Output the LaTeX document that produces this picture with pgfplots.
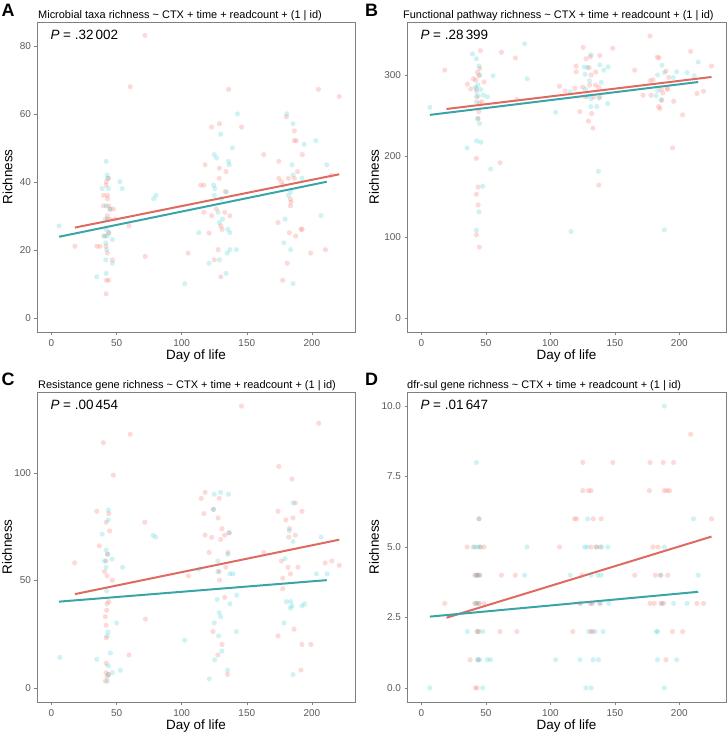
\documentclass[border=0pt]{standalone}
\usepackage{fontspec}
\setmainfont{Liberation Sans}
\usepackage{pgfplots}
\pgfplotsset{compat=1.18}
\definecolor{redpt}{HTML}{F8766D}
\definecolor{tealpt}{HTML}{00BFC4}
\definecolor{redln}{HTML}{DE6A60}
\definecolor{tealln}{HTML}{3AA5A8}
\definecolor{tickgray}{HTML}{5A5A5A}
\definecolor{framegray}{HTML}{808080}
\pgfplotsset{
  panel/.style={
    scale only axis, height=310bp,
    axis line style={draw=framegray, line width=0.9bp},
    tick style={draw=framegray, line width=0.5bp},
    tick align=outside, tick pos=left, major tick length=2.5bp,
    ticklabel style={font=\fontsize{10}{10}\selectfont, text=tickgray},
    xticklabel style={yshift=-1.5bp},
    /pgf/number format/assume math mode=true,
    xtick={0,50,100,150,200},
    xlabel={Day of life},
    ylabel={Richness},
    label style={font=\fontsize{13.5}{14}\selectfont},
    xlabel style={at={(axis description cs:0.5,0)}, anchor=center, yshift=-24bp},
    axis x line*=box, axis y line*=box,
  },
  redpts/.style={only marks, mark=*, mark size=2.6bp, color=redpt, mark options={draw opacity=0, fill=redpt, fill opacity=0.27}},
  tealpts/.style={only marks, mark=*, mark size=2.6bp, color=tealpt, mark options={draw opacity=0, fill=tealpt, fill opacity=0.19}},
  redline/.style={no marks, draw=redln, line width=2bp},
  tealline/.style={no marks, draw=tealln, line width=2bp},
}
\newcommand{\plab}[1]{\node[anchor=west, font=\fontsize{13.5}{14}\selectfont] at (rel axis cs:0,1) [xshift=10bp, yshift=-12.5bp] {\textit{P} = #1};}
\begin{document}
\begin{tikzpicture}
\useasboundingbox (0,0) rectangle (727bp,-733bp);
% letters and titles
\node[anchor=base west, font=\bfseries\fontsize{18}{18}\selectfont, inner sep=0] at (1.5bp,-16bp) {A};
\node[anchor=base west, font=\fontsize{11}{12}\selectfont, inner sep=0] at (38bp,-18.5bp) {Microbial taxa richness \textasciitilde{} CTX + time + readcount + (1 \textbar{} id)};
\node[anchor=base west, font=\bfseries\fontsize{18}{18}\selectfont, inner sep=0] at (365bp,-16bp) {B};
\node[anchor=base west, font=\fontsize{11}{12}\selectfont, inner sep=0] at (403bp,-18.5bp) {Functional pathway richness \textasciitilde{} CTX + time + readcount + (1 \textbar{} id)};
\node[anchor=base west, font=\bfseries\fontsize{18}{18}\selectfont, inner sep=0] at (1.5bp,-385.5bp) {C};
\node[anchor=base west, font=\fontsize{11}{12}\selectfont, inner sep=0] at (38bp,-388.5bp) {Resistance gene richness \textasciitilde{} CTX + time + readcount + (1 \textbar{} id)};
\node[anchor=base west, font=\bfseries\fontsize{18}{18}\selectfont, inner sep=0] at (365bp,-385.5bp) {D};
\node[anchor=base west, font=\fontsize{11}{12}\selectfont, inner sep=0] at (407bp,-388.5bp) {dfr-sul gene richness \textasciitilde{} CTX + time + readcount + (1 \textbar{} id)};

% ---------------- A
\begin{axis}[panel, at={(37bp,-22bp)}, anchor=north west, width=318bp,
  xmin=-11.1, xmax=233.1, ymin=-4.15, ymax=87.15, ytick={0,20,40,60,80},
  ylabel style={at={(axis description cs:0,0.5)}, anchor=center, rotate=0, yshift=29.5bp}]
\addplot[redpts] coordinates {(71.7,83.2)(60.5,68.1)(136,67.3)(205,67.3)(221,65.2)(180.4,59.2)(123,56.2)(129,57.2)(146,56.2)(186.5,55.1)(186.5,52.2)(188,52.2)(163,48.1)(192.6,48.1)(174.6,46.1)(118,45.1)(129,44.1)(134,43.1)(189,43.1)(128.8,41.1)(174.6,41.1)(182,41.1)(186.5,41.1)(44,41.1)(42,40.1)(42,39.1)(114.6,39.1)(117,39.1)(176.6,40.1)(178,39.1)(215,42)(40,36.1)(43,36.1)(133.4,37.2)(43,35.1)(39.9,33)(44,33)(47.5,32.1)(45,32)(117,31.1)(133,31.1)(126.6,32.1)(123,30.1)(137,30.1)(42.9,30.1)(42.9,29.1)(44.9,29.1)(48.8,29.1)(59.5,27.1)(130,27.1)(131,26.1)(174,28.1)(183.5,35)(184,34.1)(183.5,33)(191.6,26.1)(192.5,26.1)(182.7,25.1)(187.6,24.1)(41,24.1)(44,25.1)(18,21.1)(34.8,21.1)(37.3,21.1)(41.9,21.1)(42.9,19.1)(121,25)(128,20.1)(105,19.1)(72,18.1)(125,17.1)(46.8,17.1)(199,19.1)(210.4,20.1)(181,16.1)(130,12.1)(42.2,11.1)(44,11.1)(177.6,11.1)(42,7.1)};
\addplot[tealpts] coordinates {(5.8,27.1)(42,46.1)(42.7,42.1)(43.2,41.1)(38.9,38.1)(43.7,38.1)(52.6,40.1)(54.4,38.1)(78.5,35.1)(80.3,36.1)(42,33)(45,32)(41.4,29.1)(41.9,26.1)(44,25.1)(42.7,24.1)(40,24.1)(46.8,23.1)(41.7,22.1)(42.4,20.1)(41.7,17.1)(46.8,16.1)(34.8,12.1)(42,13.1)(102.4,10.1)(113,25.1)(121,16.1)(125,48.1)(126.8,47.1)(130,54.1)(136,46.1)(136.5,45.1)(139,50.1)(142.8,60.1)(124.5,39.1)(125.5,38.1)(125,36.1)(130.4,35.1)(128,31.1)(131.4,29.1)(129,28.1)(134.6,37.1)(135.4,26.1)(135,19.1)(137,20.1)(142,20.1)(134,13.1)(129,17.1)(137,25.1)(180.7,60.1)(185.5,57.2)(194,51.1)(203,52.2)(184.7,45.1)(211.4,45.1)(185.5,42.1)(192.4,41.1)(183.7,37.1)(182,36.1)(179.4,29.1)(207,30.1)(178.4,22.1)(183.7,20.1)(185.5,10.1)};
\addplot[redline] coordinates {(18,26.6)(221,42.3)};
\addplot[tealline] coordinates {(5.8,23.9)(211.4,40.1)};
\plab{.32\,002}
\end{axis}

% ---------------- B
\begin{axis}[panel, at={(407bp,-22bp)}, anchor=north west, width=319bp,
  xmin=-11.25, xmax=236.25, ymin=-17.4, ymax=365.4, ytick={0,100,200,300},
  ylabel style={at={(axis description cs:0,0.5)}, anchor=center, rotate=0, yshift=33bp}]
\addplot[redpts] coordinates {(18,306)(45.7,330)(62,328)(72.8,321)(125.4,334)(148.4,333)(177.3,348)(208.8,329)(131,322.5)(138.3,324)(120,311)(120,304)(127.7,320)(130,309)(131.6,300)(135.2,303.6)(165.4,306)(184.3,321)(183,322)(189.7,305)(225,311)(218.8,280)(213.7,277)(195.6,267.5)(202.6,250.7)(194.8,210)(35.6,288.5)(38.2,282.7)(40.3,295.4)(42,293.4)(42.6,282.7)(43.4,303.2)(44.4,299)(45.2,307.8)(48.5,291.4)(47,267)(42.8,273)(44.9,265.5)(44.4,254.8)(43.9,245.8)(42.6,197)(61,191.6)(43.9,161.7)(42.6,152.6)(43.9,139.5)(42.6,102.6)(44.9,87.4)(74,269.6)(107,286)(111.5,280.3)(119,283.5)(122.8,254.8)(125,285)(127,272.9)(129.5,243)(133,234.3)(132,252.4)(133.7,272.9)(135,287.6)(137.5,284.8)(130.5,287.6)(138.3,272.9)(137.5,164)(171.9,275)(178,275)(177.5,293)(179.6,294)(184,261)(185,258.5)(186.5,268.8)(186,282)(187.2,277.8)(191,282)(191.8,297)(190.5,284)};
\addplot[tealpts] coordinates {(6.5,260)(35.4,209.7)(39.5,326)(42.6,320)(44.6,311)(45.4,300)(41.8,285)(42.6,279.4)(43.9,287.6)(46,282)(48,275)(51.1,273)(55.5,299)(44,274)(42.6,266.7)(43.6,246.6)(45,240)(42.8,218.7)(46,217)(53.7,183.8)(47.5,162.5)(44.6,131)(42.6,108.3)(80,338.5)(82,295.4)(104,254)(115.4,279.4)(126.2,309.8)(128.8,309.4)(127,300.8)(131.6,325)(130.3,293)(127.2,282.7)(129,273.7)(131.6,270.4)(131.4,261)(136,261)(137.8,271.2)(138.3,312.3)(139.4,290.9)(141.4,306)(144.8,310)(144.5,264.7)(137.3,181)(116,106.7)(183.2,300)(186.6,311.9)(188.4,302.8)(183.2,280.7)(181.9,274.5)(185.8,269.2)(195.4,296.7)(198,304)(206,303)(211.6,299)(214.7,316)(188.4,108.7)};
\addplot[redline] coordinates {(19.4,258)(225,297.5)};
\addplot[tealline] coordinates {(6.5,250.7)(214.7,291.3)};
\plab{.28\,399}
\end{axis}

% ---------------- C
\begin{axis}[panel, at={(37bp,-392bp)}, anchor=north west, width=318bp,
  xmin=-11.1, xmax=233.1, ymin=-6.55, ymax=137.55, ytick={0,50,100},
  ylabel style={at={(axis description cs:0,0.5)}, anchor=center, rotate=0, yshift=30bp}]
\addplot[redpts] coordinates {(145.9,131)(205.3,123)(60.5,117.9)(39.9,114)(47.5,98.9)(174.6,102.9)(184.7,97.1)(118,90.9)(115,88.1)(128.8,88.1)(124.3,83)(117,81)(34.8,82.1)(44,81)(42,77)(71.7,77)(44.7,73)(128,79)(130.9,74)(174,82.1)(180,78.1)(185.5,79)(192.4,82.1)(187.3,86)(118,71)(123,70)(129.9,69)(133,71)(136.5,72.1)(182.7,74.1)(182.2,70.1)(187.3,71)(36.8,66)(43.2,62.1)(41.9,59)(121,63)(135.5,63)(163,63)(176.6,59)(17.8,58.1)(210.2,58.1)(215.2,59)(221,57)(40.7,54.1)(42.7,52.1)(46.7,50.1)(128.8,54.1)(129,50.1)(105.2,52.1)(133.9,56.1)(181.7,56.1)(183.5,53)(177.6,51)(177.6,46.1)(189.3,56.1)(44,40.1)(42.7,39.1)(42.4,36.1)(41.4,33.1)(42,29.1)(42,23.3)(72.2,32)(124,26.2)(133,42.1)(131,20.2)(127.8,15.3)(59.5,15.3)(174,24.2)(186.3,27.3)(192.4,20.2)(199.2,20.2)(191.6,8.3)(42,11.4)(42,7.1)(42.7,5.2)(44,6.2)(41.4,3.2)(135.2,6.3)};
\addplot[tealpts] coordinates {(6.4,14.2)(34.8,13.3)(38.9,71.5)(43.7,82.7)(43.7,78.1)(42,64.1)(42.9,62.2)(40.7,59)(46.5,59.9)(42,56.1)(42.4,45.1)(42.9,24.2)(43.4,26)(45.2,16.2)(43.7,10.2)(46.8,7.1)(52.9,8.2)(42.9,3.1)(43.5,6.2)(50,30.2)(54.6,56.1)(78,71)(80,70.1)(102.4,22.2)(113.1,55.2)(121.2,4.2)(125,90)(129.9,90.9)(136,90)(124.5,83)(127.8,59)(127.8,54.1)(127.3,41.1)(128.8,35)(129.9,33.1)(125,30.2)(128.3,24.2)(130.9,17.1)(125.3,13.1)(136.5,72.1)(135.4,62.1)(137,53)(139.4,53)(137,39.1)(142.3,43.1)(142,26.2)(135.2,8.3)(182.7,73)(185.5,68.1)(185.5,86)(179.4,60.1)(180.4,40.1)(183.7,40.1)(184.7,38.1)(183.5,37.1)(192.4,38.1)(194.4,39.1)(178.6,30.2)(203.5,53)(211.7,53)(207.1,70.1)(185.5,6.2)};
\addplot[redline] coordinates {(18,43.6)(221,68.9)};
\addplot[tealline] coordinates {(5.8,40.1)(211.4,50.1)};
\plab{.00\,454}
\end{axis}

% ---------------- D
\begin{axis}[panel, at={(407bp,-392bp)}, anchor=north west, width=319bp,
  xmin=-11.25, xmax=236.25, ymin=-0.5, ymax=10.5, ytick={0,2.5,5,7.5,10},
  yticklabel style={/pgf/number format/.cd, fixed, fixed zerofill, precision=1},
  ylabel style={at={(axis description cs:0,0.5)}, anchor=center, rotate=0, yshift=33bp}]
\addplot[redpts] coordinates {(208.8,9)(125.2,8)(148.4,8)(177.3,8)(187.6,8)(195.6,8)(125.2,7)(129.5,7)(131.6,7)(176.8,7)(188.4,7)(190.5,7)(192.5,7)(44.6,6)(118.7,6)(120.3,6)(133.2,6)(139.4,6)(225,6)(35.4,5)(41.3,5)(45.7,5)(48.5,5)(107.1,5)(131.6,5)(135.7,5)(138.6,5)(179.6,5)(183.5,5)(41.3,4)(42.6,4)(43.9,4)(45.4,4)(62,4)(72.8,4)(124.4,4)(165.4,4)(181.5,4)(185.3,4)(191,4)(18,3)(41.3,3)(42.8,3)(44.6,3)(48.5,3)(123,3)(130.8,3)(132.6,3)(138.6,3)(177.3,3)(180.6,3)(185.8,3)(187.9,3)(213.7,3)(218.8,3)(43.1,2)(44.6,2)(61,2)(74,2)(117.4,2)(131.6,2)(132.6,2)(194.8,2)(202.6,2)(37.7,1)(44.1,1)(189.7,1)(41.8,0)(43.1,0)};
\addplot[tealpts] coordinates {(188.4,10)(42.6,8)(44.6,6)(129,6)(211,6)(40,5)(43.4,5)(45.2,5)(81.8,5)(126.5,5)(128.5,5)(135.7,5)(139.9,5)(144.5,5)(188.4,5)(42.6,4)(44.6,4)(80,4)(115.4,4)(131.6,4)(136.8,4)(139.4,4)(185.8,4)(214.7,4)(42.3,3)(44.6,3)(123.4,3)(131.9,3)(138.3,3)(145.3,3)(186.6,3)(195.6,3)(206,3)(35.6,2)(43.6,2)(47.7,2)(129.5,2)(134.7,2)(140.9,2)(182.2,2)(183.2,2)(43.4,1)(45.2,1)(51.1,1)(53.7,1)(104,1)(123,1)(133.2,1)(137.3,1)(183.2,1)(198,1)(6.5,0)(47.5,0)(127.5,0)(131.6,0)(188.4,0)};
\addplot[redline] coordinates {(19.4,2.49)(225,5.37)};
\addplot[tealline] coordinates {(6.5,2.53)(214.7,3.41)};
\plab{.01\,647}
\end{axis}
\end{tikzpicture}
\end{document}
